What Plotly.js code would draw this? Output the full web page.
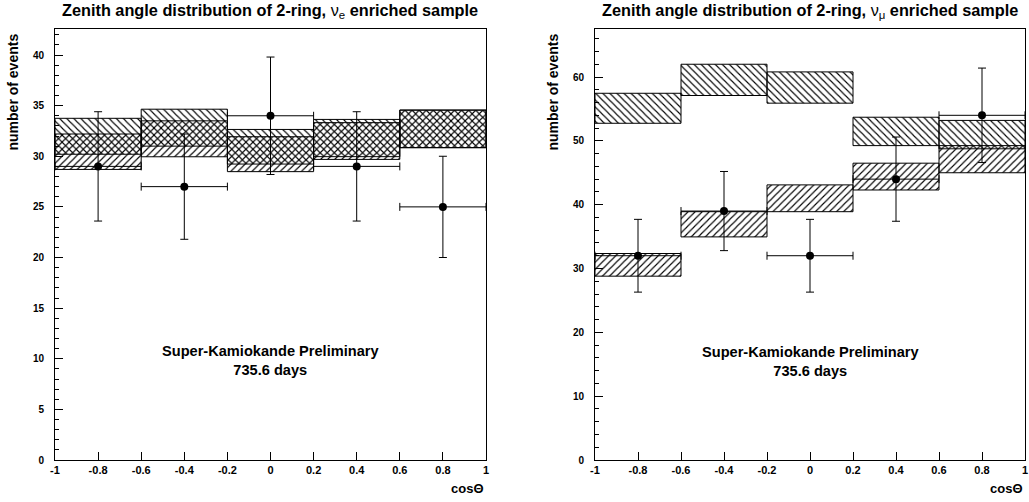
<!DOCTYPE html>
<html>
<head>
<meta charset="utf-8">
<script src="https://cdn.plot.ly/plotly-3.0.1.min.js"></script>
<style>html,body{margin:0;padding:0;background:#fff;}#chart{width:1029px;height:502px;}</style>
</head>
<body>
<div id="chart"></div>
<script>
// ---- data ----
const binCenters = [-0.8, -0.4, 0, 0.4, 0.8];
const binHalfWidth = [0.2, 0.2, 0.2, 0.2, 0.2];
const xTickVals = [-1, -0.8, -0.6, -0.4, -0.2, 0, 0.2, 0.4, 0.6, 0.8, 1];
const xTickText = ["-1", "-0.8", "-0.6", "-0.4", "-0.2", "0", "0.2", "0.4", "0.6", "0.8", "1"];

// nu_e enriched sample (left)
const eBoxA_lo = [30.2, 31.0, 29.23, 29.96, 30.85];   // "\\" hatched band
const eBoxA_hi = [33.75, 34.65, 32.65, 33.64, 34.57];
const eBoxB_lo = [28.7, 29.95, 28.48, 29.69, 30.85];  // "/" hatched band
const eBoxB_hi = [32.2, 33.5, 31.93, 33.32, 34.55];
const eData = [29, 27, 34, 29, 25];
const eErr = [5.4, 5.2, 5.8, 5.4, 5.0];

// nu_mu enriched sample (right)
const muBoxA_lo = [52.75, 57.1, 55.9, 49.25, 48.75];
const muBoxA_hi = [57.45, 62.0, 60.8, 53.7, 53.2];
const muBoxB_lo = [28.8, 34.95, 38.9, 42.3, 45.0];
const muBoxB_hi = [32.35, 38.9, 43.1, 46.5, 49.25];
const muData = [32, 39, 32, 44, 54];
const muErr = [5.7, 6.2, 5.7, 6.6, 7.4];

const titleLeft = "Zenith angle distribution of 2-ring, <span style='font-weight:normal'>ν<sub>e</sub></span> enriched sample";
const titleRight = "Zenith angle distribution of 2-ring, <span style='font-weight:normal'>ν<sub>μ</sub></span> enriched sample";
const yTitle = "number of events";
const xTitle = "cosΘ";
const skText = "Super-Kamiokande Preliminary<br>735.6 days";

// ---- drawing ----
const FONT = "Liberation Sans, Arial, Helvetica, sans-serif";

function box(lo, hi, shape, xa, ya) {
  return {
    type: 'bar', x: binCenters, base: lo, y: hi.map((h, i) => h - lo[i]),
    width: binCenters.map(() => 0.4), xaxis: xa, yaxis: ya,
    marker: {
      color: 'black',
      line: {color: 'black', width: 1},
      pattern: {shape: shape, size: 5, solidity: 0.22, fillmode: 'replace'}
    },
    hoverinfo: 'skip'
  };
}
function pts(y, err, xa, ya) {
  return {
    type: 'scatter', mode: 'markers', x: binCenters, y: y, xaxis: xa, yaxis: ya,
    marker: {color: 'black', size: 8},
    error_y: {type: 'data', array: err, visible: true, color: 'black', thickness: 1, width: 4},
    error_x: {type: 'data', array: binHalfWidth, visible: true, color: 'black', thickness: 1, width: 4},
    hoverinfo: 'skip'
  };
}

const traces = [
  box(eBoxA_lo, eBoxA_hi, '\\', 'x', 'y'),
  box(eBoxB_lo, eBoxB_hi, '/', 'x', 'y'),
  pts(eData, eErr, 'x', 'y'),
  box(muBoxA_lo, muBoxA_hi, '\\', 'x2', 'y2'),
  box(muBoxB_lo, muBoxB_hi, '/', 'x2', 'y2'),
  pts(muData, muErr, 'x2', 'y2')
];

const W = 1029, H = 502;
const yDom = [1 - 460 / H, 1 - 29 / H];
function xaxis(dom) {
  return {
    domain: dom, range: [-1, 1], tickvals: xTickVals, ticktext: xTickText,
    ticks: 'inside', ticklen: 8, tickcolor: 'black', tickwidth: 1,
    showline: true, linecolor: 'black', linewidth: 1, mirror: true,
    showgrid: false, zeroline: false,
    tickfont: {family: FONT, size: 11, color: 'black', weight: 'bold'}
  };
}
function yaxis(top, dtick, mdtick, anchor) {
  return {
    domain: yDom, range: [0, top], dtick: dtick, tick0: 0, anchor: anchor,
    ticks: 'inside', ticklen: 8, tickcolor: 'black', tickwidth: 1,
    minor: {dtick: mdtick, ticks: 'inside', ticklen: 4, tickcolor: 'black', showgrid: false},
    showline: true, linecolor: 'black', linewidth: 1, mirror: true,
    showgrid: false, zeroline: false, ticklabelstandoff: 8,
    tickfont: {family: FONT, size: 10, color: 'black', weight: 'bold'}
  };
}

const bold = (s, size) => ({family: FONT, size: size, color: 'black', weight: 'bold'});
const annotations = [
  {xref: 'paper', yref: 'paper', x: 270 / W, y: 1 - 11 / H, text: titleLeft, showarrow: false, xanchor: 'center', yanchor: 'middle', font: bold(0, 16.3)},
  {xref: 'paper', yref: 'paper', x: 810 / W, y: 1 - 11 / H, text: titleRight, showarrow: false, xanchor: 'center', yanchor: 'middle', font: bold(0, 16.3)},
  {xref: 'paper', yref: 'paper', x: 13 / W, y: 1 - 32 / H, text: yTitle, textangle: -90, showarrow: false, xanchor: 'center', yanchor: 'top', font: bold(0, 14)},
  {xref: 'paper', yref: 'paper', x: 553 / W, y: 1 - 32 / H, text: yTitle, textangle: -90, showarrow: false, xanchor: 'center', yanchor: 'top', font: bold(0, 14)},
  {xref: 'paper', yref: 'paper', x: 486 / W, y: 1 - 488 / H, text: xTitle, showarrow: false, xanchor: 'right', yanchor: 'middle', font: bold(0, 13)},
  {xref: 'paper', yref: 'paper', x: 1025 / W, y: 1 - 488 / H, text: xTitle, showarrow: false, xanchor: 'right', yanchor: 'middle', font: bold(0, 13)},
  {xref: 'x', yref: 'y', x: 0, y: 9.8, text: skText, showarrow: false, xanchor: 'center', yanchor: 'middle', font: bold(0, 14.6)},
  {xref: 'x2', yref: 'y2', x: 0, y: 15.5, text: skText, showarrow: false, xanchor: 'center', yanchor: 'middle', font: bold(0, 14.6)}
];

const layout = {
  width: W, height: H,
  margin: {l: 0, r: 0, t: 0, b: 0},
  paper_bgcolor: 'white', plot_bgcolor: 'white',
  showlegend: false, hovermode: false, barmode: 'overlay',
  xaxis: xaxis([55 / W, 486 / W]),
  yaxis: yaxis(42.57, 5, 1, 'x'),
  xaxis2: Object.assign(xaxis([595 / W, 1025 / W]), {anchor: 'y2'}),
  yaxis2: yaxis(67.52, 10, 2, 'x2'),
  annotations: annotations
};
layout.xaxis.anchor = 'y';

Plotly.newPlot('chart', traces, layout, {staticPlot: true, displayModeBar: false});
</script>
</body>
</html>
